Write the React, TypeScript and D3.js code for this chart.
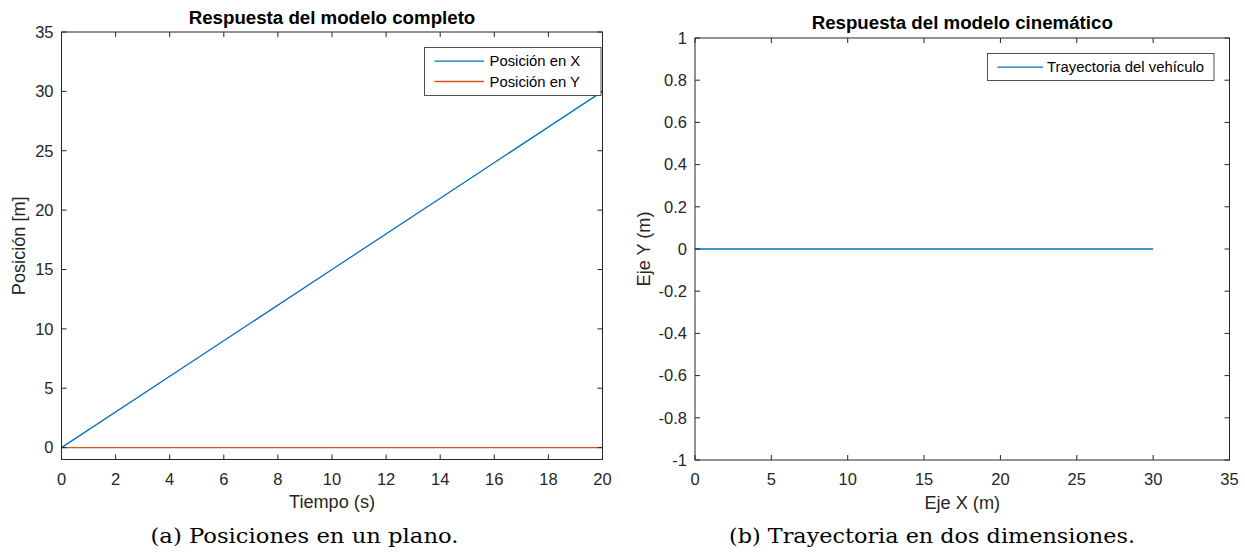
import * as React from 'react'
import * as d3 from 'd3'

// Left: posiciones vs tiempo
const tiempo = [0, 5, 10, 15, 20]
const posX = [0, 7.5, 15, 22.5, 30]
const posY = [0, 0, 0, 0, 0]
const leftXTicks = [0, 2, 4, 6, 8, 10, 12, 14, 16, 18, 20]
const leftYTicks = [0, 5, 10, 15, 20, 25, 30, 35]

// Right: trayectoria
const trayX = [0, 10, 20, 30]
const trayY = [0, 0, 0, 0]
const rightXTicks = [0, 5, 10, 15, 20, 25, 30, 35]
const rightYTicks = [1, 0.8, 0.6, 0.4, 0.2, 0, -0.2, -0.4, -0.6, -0.8, -1]

const AX = '#262626'
const BLUE = '#0072BD'
const ORANGE = '#D95319'
const SANS = 'Liberation Sans, Arial, sans-serif'
const SERIF = 'DejaVu Serif, serif'
const FS = 16.5

interface PanelProps {
  x0: number
  x1: number
  y0: number
  y1: number
  xDomain: [number, number]
  yDomain: [number, number]
  xTicks: number[]
  yTicks: number[]
  title: string
  titleY: number
  xLabel: string
  yLabel: string
  yLabelX: number
  series: { xs: number[]; ys: number[]; color: string; name: string }[]
  legend: { x: number; y: number; w: number; h: number; lineEnd: number; textX: number }
  caption: string
  captionX: number
  captionWidth: number
}

function Panel(p: PanelProps) {
  const x = d3.scaleLinear().domain(p.xDomain).range([p.x0, p.x1])
  const y = d3.scaleLinear().domain(p.yDomain).range([p.y1, p.y0])
  const line = d3.line<[number, number]>().x(d => x(d[0])).y(d => y(d[1]))
  const tl = 5
  const cx = (p.x0 + p.x1) / 2
  return (
    <g>
      {p.series.map((s, i) => (
        <path key={i} d={line(s.xs.map((v, j) => [v, s.ys[j]] as [number, number])) || ''}
          fill="none" stroke={s.color} strokeWidth={1.3} />
      ))}
      <rect x={p.x0} y={p.y0} width={p.x1 - p.x0} height={p.y1 - p.y0} fill="none" stroke={AX} strokeWidth={1} />
      {p.xTicks.map(t => (
        <g key={'x' + t}>
          <line x1={x(t)} x2={x(t)} y1={p.y1} y2={p.y1 - tl} stroke={AX} />
          <line x1={x(t)} x2={x(t)} y1={p.y0} y2={p.y0 + tl} stroke={AX} />
          <text x={x(t)} y={p.y1 + 25} textAnchor="middle" fontSize={FS} fill={AX} fontFamily={SANS}>{t}</text>
        </g>
      ))}
      {p.yTicks.map(t => (
        <g key={'y' + t}>
          <line x1={p.x0} x2={p.x0 + tl} y1={y(t)} y2={y(t)} stroke={AX} />
          <line x1={p.x1} x2={p.x1 - tl} y1={y(t)} y2={y(t)} stroke={AX} />
          <text x={p.x0 - 8} y={y(t)} dy="0.35em" textAnchor="end" fontSize={FS} fill={AX} fontFamily={SANS}>{t}</text>
        </g>
      ))}
      <text x={cx} y={p.titleY} textAnchor="middle" fontSize={18.7} fontWeight="bold" fill="#000" fontFamily={SANS}>{p.title}</text>
      <text x={cx} y={p.y1 + 48.5} textAnchor="middle" fontSize={FS * 1.1} fill={AX} fontFamily={SANS}>{p.xLabel}</text>
      <text transform={`translate(${p.yLabelX},${(p.y0 + p.y1) / 2}) rotate(-90)`} textAnchor="middle" fontSize={FS * 1.1} fill={AX} fontFamily={SANS}>{p.yLabel}</text>
      <rect x={p.legend.x} y={p.legend.y} width={p.legend.w} height={p.legend.h} fill="#fff" stroke={AX} strokeWidth={0.8} />
      {p.series.map((s, i) => {
        const ly = p.legend.y + 13.7 + i * 20.3
        return (
          <g key={'l' + i}>
            <line x1={p.legend.x + 10} x2={p.legend.x + p.legend.lineEnd} y1={ly} y2={ly} stroke={s.color} strokeWidth={1.3} />
            <text x={p.legend.x + p.legend.textX} y={ly} dy="0.35em" fontSize={FS * 0.9} fill="#000" fontFamily={SANS}>{s.name}</text>
          </g>
        )
      })}
      <text x={p.captionX} y={543} fontSize={20} fill="#000" fontFamily={SERIF}
        textLength={p.captionWidth} lengthAdjust="spacingAndGlyphs">{p.caption}</text>
    </g>
  )
}

export default function App() {
  return (
    <svg width={1245} height={555} style={{ position: 'absolute', left: 0, top: 0, background: '#fff' }}>
      <rect width={1245} height={555} fill="#fff" />
      <Panel x0={61.5} x1={602.5} y0={32} y1={459.5} xDomain={[0, 20]} yDomain={[-1, 35]}
        xTicks={leftXTicks} yTicks={leftYTicks}
        title="Respuesta del modelo completo" titleY={23.5}
        xLabel="Tiempo (s)" yLabel="Posición [m]" yLabelX={25}
        series={[
          { xs: tiempo, ys: posX, color: BLUE, name: 'Posición en X' },
          { xs: tiempo, ys: posY, color: ORANGE, name: 'Posición en Y' },
        ]}
        legend={{ x: 424.5, y: 47.5, w: 176.5, h: 48, lineEnd: 59.5, textX: 65 }}
        caption="(a) Posiciones en un plano." captionX={150.5} captionWidth={308} />
      <Panel x0={695} x1={1229.5} y0={38} y1={460} xDomain={[0, 35]} yDomain={[-1, 1]}
        xTicks={rightXTicks} yTicks={rightYTicks}
        title="Respuesta del modelo cinemático" titleY={29}
        xLabel="Eje X (m)" yLabel="Eje Y (m)" yLabelX={650}
        series={[{ xs: trayX, ys: trayY, color: BLUE, name: 'Trayectoria del vehículo' }]}
        legend={{ x: 987.5, y: 53.5, w: 226.5, h: 27, lineEnd: 55.5, textX: 59.5 }}
        caption="(b) Trayectoria en dos dimensiones." captionX={729} captionWidth={406} />
    </svg>
  )
}
